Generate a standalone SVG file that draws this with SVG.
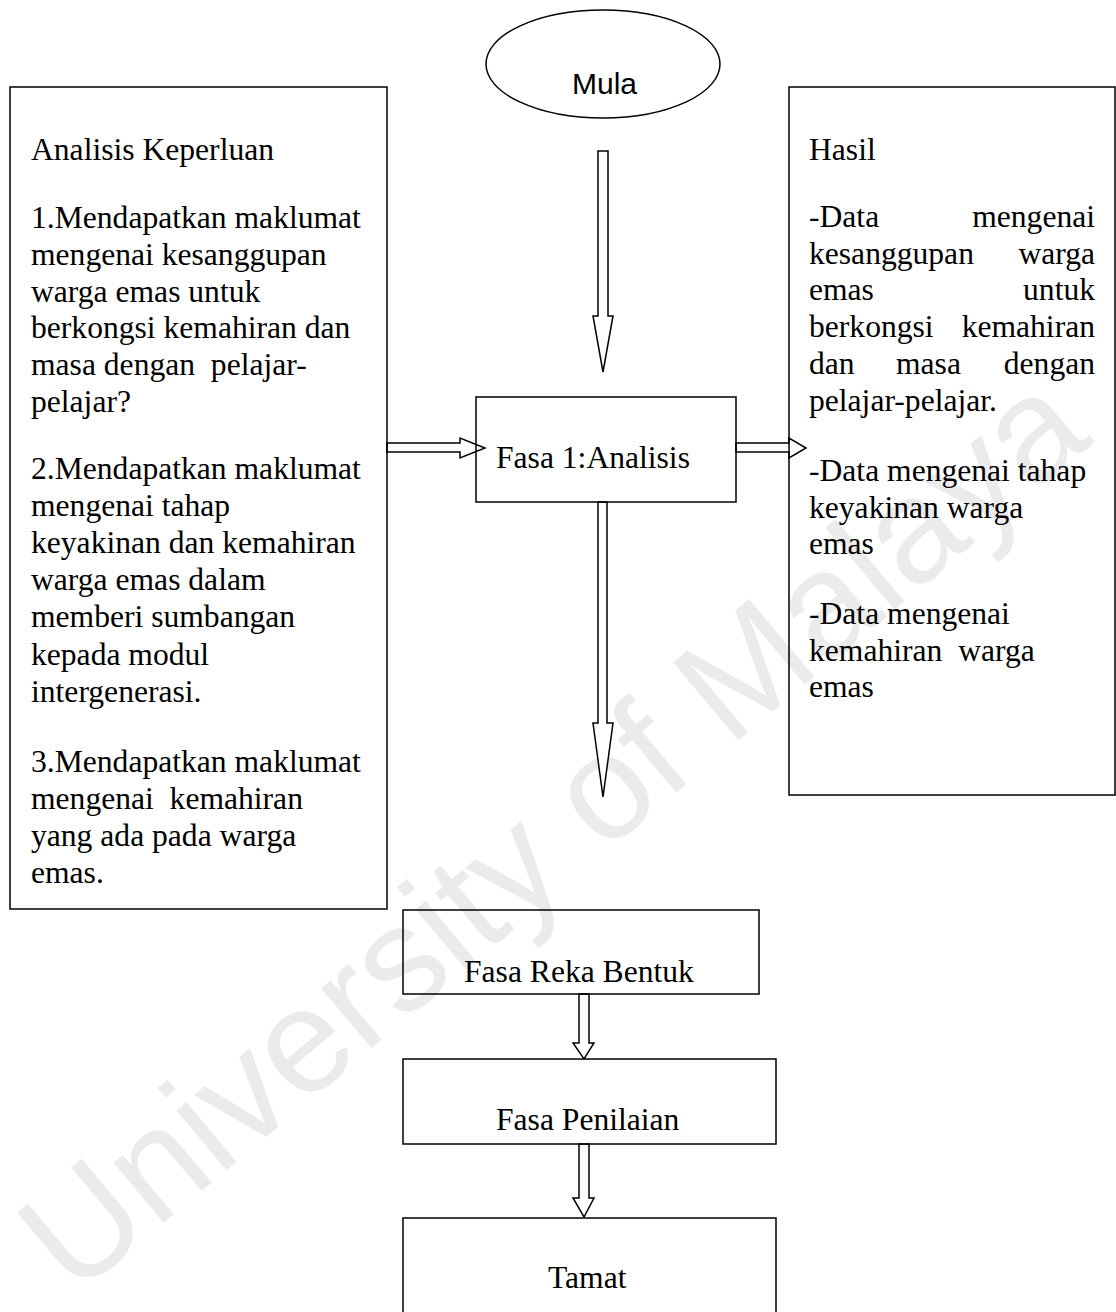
<svg xmlns="http://www.w3.org/2000/svg" width="1116" height="1312" viewBox="0 0 1116 1312">
<style>
.box{fill:none;stroke:#000;stroke-width:1.5}
.arr{fill:#fff;stroke:#000;stroke-width:1.5;stroke-linejoin:miter}
.t{font-family:"Liberation Serif","Times New Roman",serif;font-size:31.6px;fill:#000;white-space:pre}
.s{font-family:"Liberation Sans",Arial,sans-serif;font-size:30px;fill:#000}
.e{text-anchor:end}
.wm{font-family:"Liberation Sans",Arial,sans-serif;font-size:148px;fill:#ebebeb}
</style>
<rect width="1116" height="1312" fill="#fff"/>
<text class="wm" transform="translate(74,1298) rotate(-40)">University of Malaya</text>

<g id="connectors">
<polygon class="arr" points="598,151 608,151 608,316 613,316 603,372 593,316 598,316"/>
<polygon class="arr" points="387,443 460,443 460,438 485,448 460,458 460,452 387,452"/>
<polygon class="arr" points="736,443 789,443 789,438 806,448 789,458 789,452 736,452"/>
<polygon class="arr" points="598,502 607,502 607,723 613,723 603,797 593,723 598,723"/>
<polygon class="arr" points="579,994 589,994 589,1043 594,1043 584,1059 573,1043 579,1043"/>
<polygon class="arr" points="579,1144 589,1144 589,1198 594,1198 584,1217 573,1198 579,1198"/>
</g>

<g id="mula">
<ellipse class="box" cx="603" cy="64" rx="117" ry="54"/>
<text class="s" x="572" y="94">Mula</text>
</g>

<g id="analisis-keperluan">
<rect class="box" x="10" y="87" width="377" height="822"/>
<text class="t" x="31" y="160">Analisis Keperluan</text>
<text class="t" x="31" y="228">1.Mendapatkan maklumat</text>
<text class="t" x="31" y="265">mengenai kesanggupan</text>
<text class="t" x="31" y="302">warga emas untuk</text>
<text class="t" x="31" y="338">berkongsi kemahiran dan</text>
<text class="t" x="31" y="375">masa dengan  pelajar-</text>
<text class="t" x="31" y="412">pelajar?</text>
<text class="t" x="31" y="479">2.Mendapatkan maklumat</text>
<text class="t" x="31" y="516">mengenai tahap</text>
<text class="t" x="31" y="553">keyakinan dan kemahiran</text>
<text class="t" x="31" y="590">warga emas dalam</text>
<text class="t" x="31" y="627">memberi sumbangan</text>
<text class="t" x="31" y="665">kepada modul</text>
<text class="t" x="31" y="702">intergenerasi.</text>
<text class="t" x="31" y="772">3.Mendapatkan maklumat</text>
<text class="t" x="31" y="809">mengenai  kemahiran</text>
<text class="t" x="31" y="846">yang ada pada warga</text>
<text class="t" x="31" y="883">emas.</text>
</g>

<g id="fasa1">
<rect class="box" x="476" y="397" width="260" height="105"/>
<text class="t" x="496" y="468">Fasa 1:Analisis</text>
</g>

<g id="hasil">
<rect class="box" x="789" y="87" width="326" height="708"/>
<text class="t" x="809" y="160">Hasil</text>
<text class="t" x="809" y="227">-Data</text><text class="t e" x="1095" y="227">mengenai</text>
<text class="t" x="809" y="264">kesanggupan</text><text class="t e" x="1095" y="264">warga</text>
<text class="t" x="809" y="300">emas</text><text class="t e" x="1095" y="300">untuk</text>
<text class="t" x="809" y="337">berkongsi</text><text class="t e" x="1095" y="337">kemahiran</text>
<text class="t" x="809" y="374">dan</text><text class="t" x="896" y="374">masa</text><text class="t e" x="1095" y="374">dengan</text>
<text class="t" x="809" y="411">pelajar-pelajar.</text>
<text class="t" x="809" y="481">-Data mengenai tahap</text>
<text class="t" x="809" y="518">keyakinan warga</text>
<text class="t" x="809" y="554">emas</text>
<text class="t" x="809" y="624">-Data mengenai</text>
<text class="t" x="809" y="661">kemahiran  warga</text>
<text class="t" x="809" y="697">emas</text>
</g>

<g id="reka-bentuk">
<rect class="box" x="403" y="910" width="356" height="84"/>
<text class="t" x="464" y="982">Fasa Reka Bentuk</text>
</g>

<g id="penilaian">
<rect class="box" x="403" y="1059" width="373" height="85"/>
<text class="t" x="496" y="1130">Fasa Penilaian</text>
</g>

<g id="tamat">
<rect class="box" x="403" y="1218" width="373" height="110"/>
<text class="t" x="548" y="1288">Tamat</text>
</g>
</svg>
